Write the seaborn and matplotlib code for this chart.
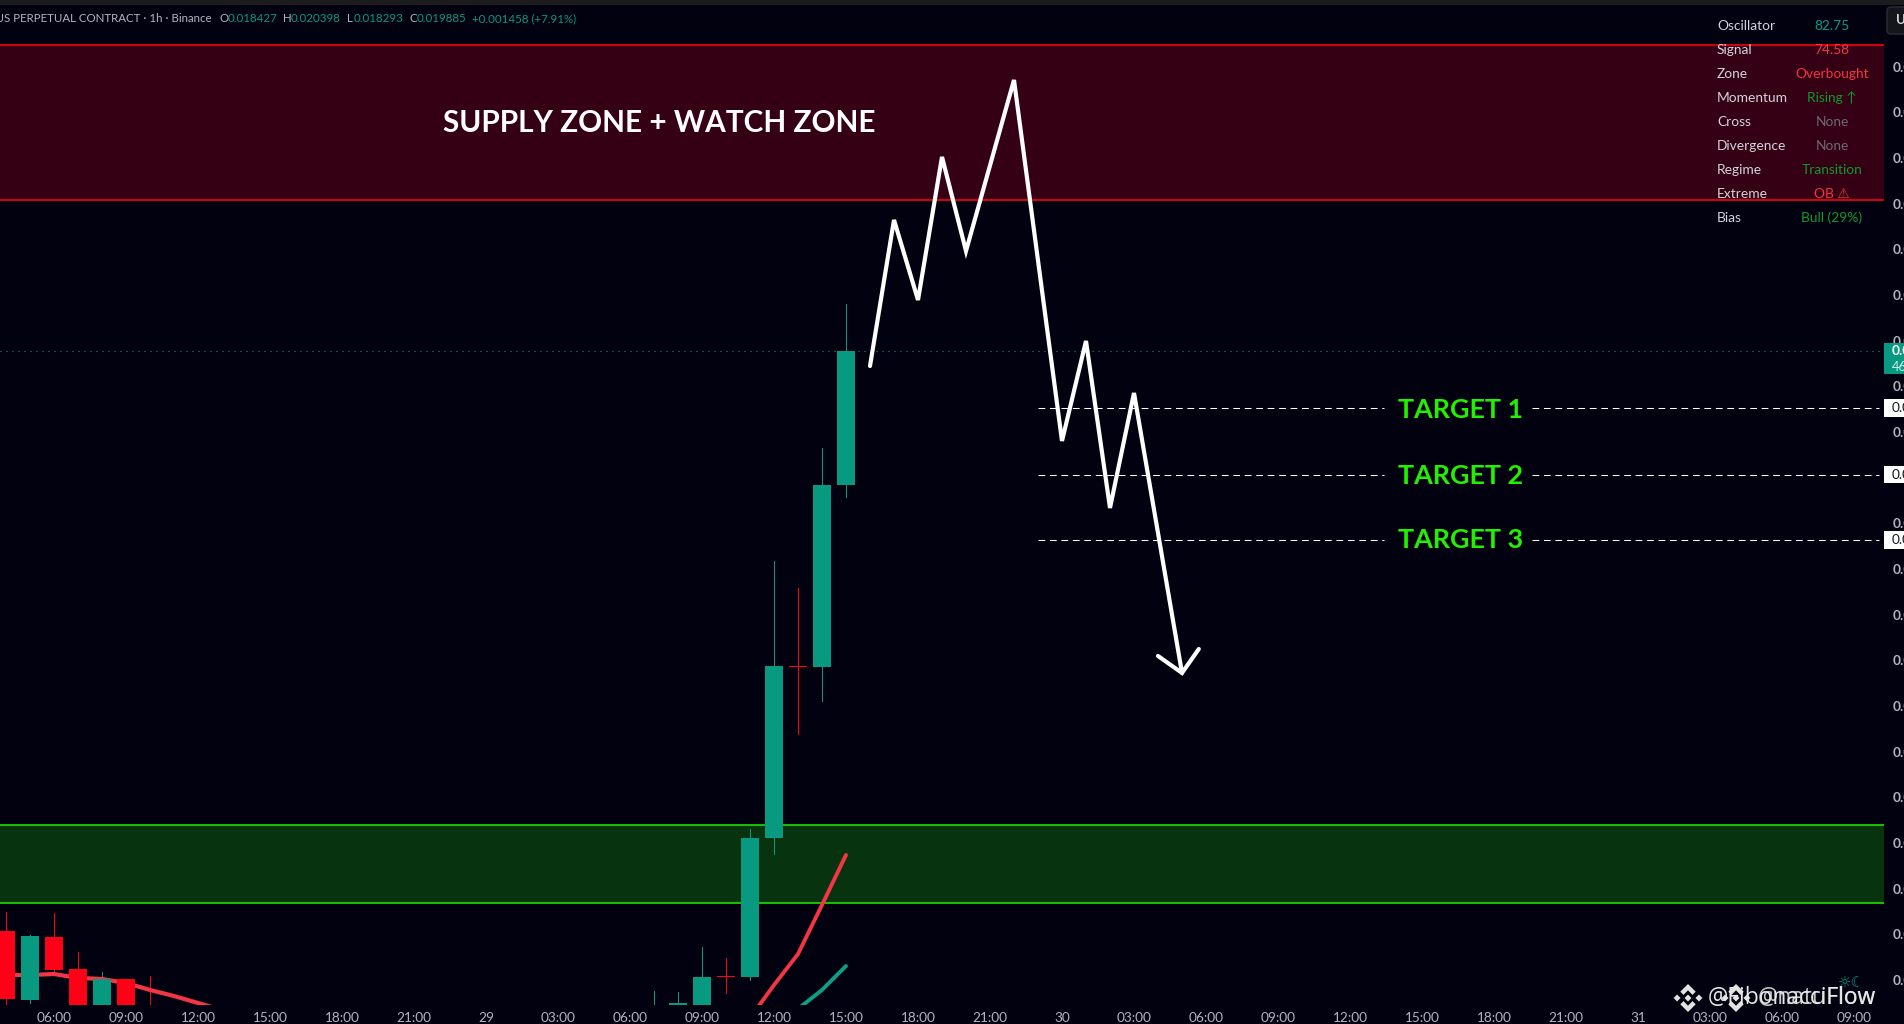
import numpy as np
import pandas as pd
import matplotlib
matplotlib.use("Agg")
import matplotlib.pyplot as plt
from matplotlib.patches import FancyBboxPatch, Polygon, Rectangle
from matplotlib.transforms import blended_transform_factory
import seaborn as sns

# ---------- data ----------
candle_hours = [4, 5, 6, 7, 8, 9, 10, 31, 32, 33, 34, 35, 36, 37, 38, 39]
opens  = [0.013560, 0.012808, 0.013495, 0.013146, 0.012644, 0.013037, 0.012699, 0.012644,
          0.012720, 0.012644, 0.013069, 0.013058, 0.014574, 0.016450, 0.016439, 0.018427]
highs  = [0.013767, 0.013517, 0.013756, 0.013331, 0.013113, 0.013037, 0.013069, 0.012906,
          0.012895, 0.013386, 0.013266, 0.014672, 0.017595, 0.017301, 0.018827, 0.020398]
lows   = [0.012720, 0.012775, 0.013080, 0.012644, 0.012611, 0.012568, 0.012611, 0.012611,
          0.012677, 0.012611, 0.012884, 0.013026, 0.014400, 0.015708, 0.016068, 0.018293]
closes = [0.012819, 0.013506, 0.013135, 0.012677, 0.013037, 0.012590, 0.012666, 0.012699,
          0.012775, 0.013058, 0.013058, 0.014574, 0.016450, 0.016439, 0.018427, 0.019885]

ma_red_a_hours = [4, 5, 6, 7, 8, 9, 10, 11, 12, 13]
ma_red_a = [0.013080, 0.013080, 0.013091, 0.013048, 0.013037, 0.012993, 0.012917, 0.012851, 0.012775, 0.012699]
ma_red_b_hours = [35, 36, 37, 38, 39]
ma_red_b = [0.012611, 0.012971, 0.013309, 0.013844, 0.014389]
ma_teal_hours = [37, 38, 39]
ma_teal = [0.012710, 0.012917, 0.013178]

path_hours = [40, 41, 42, 43, 44, 46, 48, 49, 50, 51, 53]
path_prices = [0.019721, 0.021314, 0.020441, 0.022001, 0.020975, 0.022840,
               0.018904, 0.019994, 0.018173, 0.019427, 0.016374]
arrow_hours = [52, 53, 53.7]
arrow_prices = [0.016559, 0.016374, 0.016635]

supply_zone = (0.021532, 0.023225)
demand_zone = (0.013869, 0.014721)
last_price = 0.019885
target_prices = [0.019263, 0.018533, 0.017824]
target_labels = ["TARGET 1", "TARGET 2", "TARGET 3"]

x_tick_hours = list(range(6, 82, 3))
x_tick_labels = ["06:00", "09:00", "12:00", "15:00", "18:00", "21:00", "29", "03:00", "06:00",
                 "09:00", "12:00", "15:00", "18:00", "21:00", "30", "03:00", "06:00", "09:00",
                 "12:00", "15:00", "18:00", "21:00", "31", "03:00", "06:00", "09:00"]
y_tick_values = [0.013 + 0.0005 * i for i in range(21)]
y_ticks = [0.013026 + 0.000498 * i for i in range(21)]

table_names = ["Oscillator", "Signal", "Zone", "Momentum", "Cross", "Divergence", "Regime", "Extreme", "Bias"]
table_values = ["82.75", "74.58", "Overbought", "Rising ↑", "None", "None", "Transition", "OB ⚠", "Bull (29%)"]
TEAL, RED, SOFT_RED = "#089981", "#ff0016", "#f23645"
LIME, GRAY, BG = "#1fe800", "#b2b5be", "#02010f"
table_colors = [TEAL, SOFT_RED, SOFT_RED, "#0c9a2e", "#6a6a72", "#6a6a72", "#0c9a2e", SOFT_RED, "#0c9a2e"]

# ---------- style ----------
sns.set_theme(style="dark", rc={"axes.facecolor": BG, "figure.facecolor": BG, "axes.grid": False})
FONT = ["Lato", "DejaVu Sans"]
plt.rcParams["font.family"] = FONT

W, H = 1904, 1024
fig = plt.figure(figsize=(W / 100, H / 100), dpi=100)
ax = fig.add_axes([0, (H - 1005) / H, 1884 / W, (1005 - 4.7) / H])
ax.set_xlim(3.75, 82.25)
ax.set_ylim(0.012753, 0.023661)
for s in ax.spines.values():
    s.set_visible(False)

# zones
for zone, fill, edge in [(supply_zone, "#360014", RED), (demand_zone, "#07340e", LIME)]:
    ax.axhspan(zone[0], zone[1], color=fill, lw=0, zorder=0.5)
    ax.axhline(zone[0], color=edge, lw=1.15, zorder=1)
    ax.axhline(zone[1], color=edge, lw=1.15, zorder=1)

# last price line
ax.axhline(last_price, color=TEAL, lw=0.8, ls=(0, (1, 4.4)), zorder=1)

# candles
df = pd.DataFrame({"h": candle_hours, "o": opens, "hi": highs, "lo": lows, "c": closes})
df["col"] = np.where(df.c >= df.o, TEAL, RED)
ax.vlines(df.h, df.lo, df.hi, colors=df.col, lw=0.68, zorder=2, antialiased=False)
ax.bar(df.h, (df.c - df.o).abs().clip(lower=0.000012), bottom=df[["o", "c"]].min(axis=1),
       width=0.79, color=df.col, lw=0, zorder=3)

# moving averages
sns.lineplot(x=ma_red_a_hours, y=ma_red_a, color=SOFT_RED, lw=3.0, ax=ax, zorder=2.5, estimator=None)
sns.lineplot(x=ma_red_b_hours, y=ma_red_b, color=SOFT_RED, lw=2.8, ax=ax, zorder=2.5, estimator=None,
             solid_capstyle="round")
sns.lineplot(x=ma_teal_hours, y=ma_teal, color="#0f9d85", lw=2.8, ax=ax, zorder=2.5, estimator=None,
             solid_capstyle="round")

# target dashes
for p in target_prices:
    for a, b in [(47, 61.4), (67.6, 82.04)]:
        ax.plot([a, b], [p, p], color="white", lw=0.75, ls=(0, (6.5, 4.5)), zorder=3.5)

# hand drawn path
sns.lineplot(x=path_hours, y=path_prices, sort=False, estimator=None, color="white", lw=3.0, ax=ax,
             zorder=4, solid_joinstyle="miter", solid_capstyle="round")
sns.lineplot(x=arrow_hours, y=arrow_prices, sort=False, estimator=None, color="white", lw=3.0, ax=ax,
             zorder=4, solid_joinstyle="miter", solid_capstyle="round")
ax.set_xlabel("")
ax.set_ylabel("")

# axes ticks
ax.set_xticks(x_tick_hours)
ax.set_xticklabels(x_tick_labels, fontsize=9.8, color=GRAY)
ax.yaxis.tick_right()
ax.set_yticks(y_ticks)
ax.set_yticklabels([f"{t:.6f}" for t in y_tick_values], fontsize=9.8, color=GRAY, fontweight="bold")
ax.tick_params(axis="x", length=0, pad=5)
ax.tick_params(axis="y", length=0, pad=6)

# price tags at right axis
tr = blended_transform_factory(ax.transAxes, ax.transData)
tag_w = 20 / 1884
for p in target_prices:
    ax.add_patch(Rectangle((1, p - 0.000093), tag_w, 0.000186, transform=tr, fc="white", ec="none",
                           clip_on=False, zorder=6))
    ax.text(1 + 8 / 1884, p, f"{p:.6f}", transform=tr, color="#131722", fontsize=9.8, va="center",
            ha="left", clip_on=False, zorder=7)
ax.add_patch(Rectangle((1, 0.019885 - 0.000250), tag_w, 0.000340, transform=tr, fc=TEAL, ec="none",
                       clip_on=False, zorder=6))
ax.text(1 + 8 / 1884, 0.019885, f"{last_price:.6f}", transform=tr, color="white", fontsize=9.8,
        fontweight="bold", va="center", ha="left", clip_on=False, zorder=7)
ax.text(1 + 8 / 1884, 0.019885 - 0.000170, "46:12", transform=tr, color="#cfeee8", fontsize=9.2,
        va="center", ha="left", clip_on=False, zorder=7)

# ---------- overlay in pixel space (texts and furniture) ----------
ov = fig.add_axes([0, 0, 1, 1], facecolor="none", zorder=10)
ov.set_xlim(0, W)
ov.set_ylim(H, 0)
ov.axis("off")

ov.add_patch(Rectangle((0, 0), W, 4.7, fc="#1c1c1f", ec="none"))
ov.add_patch(FancyBboxPatch((1890, 10), 30, 21, boxstyle="round,pad=3,rounding_size=4",
                            fc="#14161b", ec="#2b2d33", lw=1))
ov.text(1896, 20.5, "USD", color="#d8d8dc", fontsize=9.5, fontweight="bold", va="center", ha="left")

# header
HDR = 8.3
ov.text(212, 19, "JASMYUS PERPETUAL CONTRACT · 1h · Binance", color=GRAY, fontsize=HDR, va="center", ha="right")
for x, s, c in [(220, "O", GRAY), (228, "0.018427", TEAL), (283, "H", GRAY), (291, "0.020398", TEAL),
                (347, "L", GRAY), (354, "0.018293", TEAL), (409, "C", GRAY), (417, "0.019885", TEAL),
                (472, "+0.001458 (+7.91%)", TEAL)]:
    ov.text(x, 19, s, color=c, fontsize=HDR, va="center", ha="left")

# table
for i, (n, v, c) in enumerate(zip(table_names, table_values, table_colors)):
    y = 26 + 24 * i
    ov.text(1717, y, n, color="#d1d4dc", fontsize=9.9, va="center", ha="left")
    ov.text(1832, y, v, color=c, fontsize=9.9, va="center", ha="center")

# annotations
ov.text(443, 123.5, "SUPPLY ZONE + WATCH ZONE", color="white", fontsize=21.4, fontweight="bold",
        va="center", ha="left")
for lab, y in zip(target_labels, [409.5, 475.5, 540.5]):
    ov.text(1398, y, lab, color="#22f000", fontsize=19.4, fontweight="bold", va="center", ha="left")

# small icon
ov.text(1851, 982, "☼☾", color=TEAL, fontsize=11, va="center", ha="center", family="DejaVu Sans")

# watermark
def logo(cx, cy, r=14, col="#e2e2e2"):
    d = r * 0.25
    for ox, oy in [(0, 0), (-r * 0.78, 0), (r * 0.78, 0)]:
        ov.add_patch(Polygon([(cx + ox - d, cy + oy), (cx + ox, cy + oy - d),
                              (cx + ox + d, cy + oy), (cx + ox, cy + oy + d)], fc=col, ec="none"))
    for sgn in (-1, 1):
        ov.add_patch(Polygon([(cx, cy + sgn * r), (cx + r * 0.55, cy + sgn * r * 0.45),
                              (cx + r * 0.32, cy + sgn * r * 0.22), (cx, cy + sgn * r * 0.55),
                              (cx - r * 0.32, cy + sgn * r * 0.22), (cx - r * 0.55, cy + sgn * r * 0.45)],
                             fc=col, ec="none"))

logo(1688, 998)
logo(1736, 998)
wm = ["Open Sans", "DejaVu Sans"]
ov.text(1708, 998, "@FibonacciFlow", color="#e8e8e8", fontsize=16.4, va="center", ha="left", family=wm)
ov.text(1758, 998, "@natuFlow", color="#e8e8e8", fontsize=16.4, va="center", ha="left", family=wm, alpha=0.85)

fig.savefig("out.png", dpi=100, facecolor=BG)
